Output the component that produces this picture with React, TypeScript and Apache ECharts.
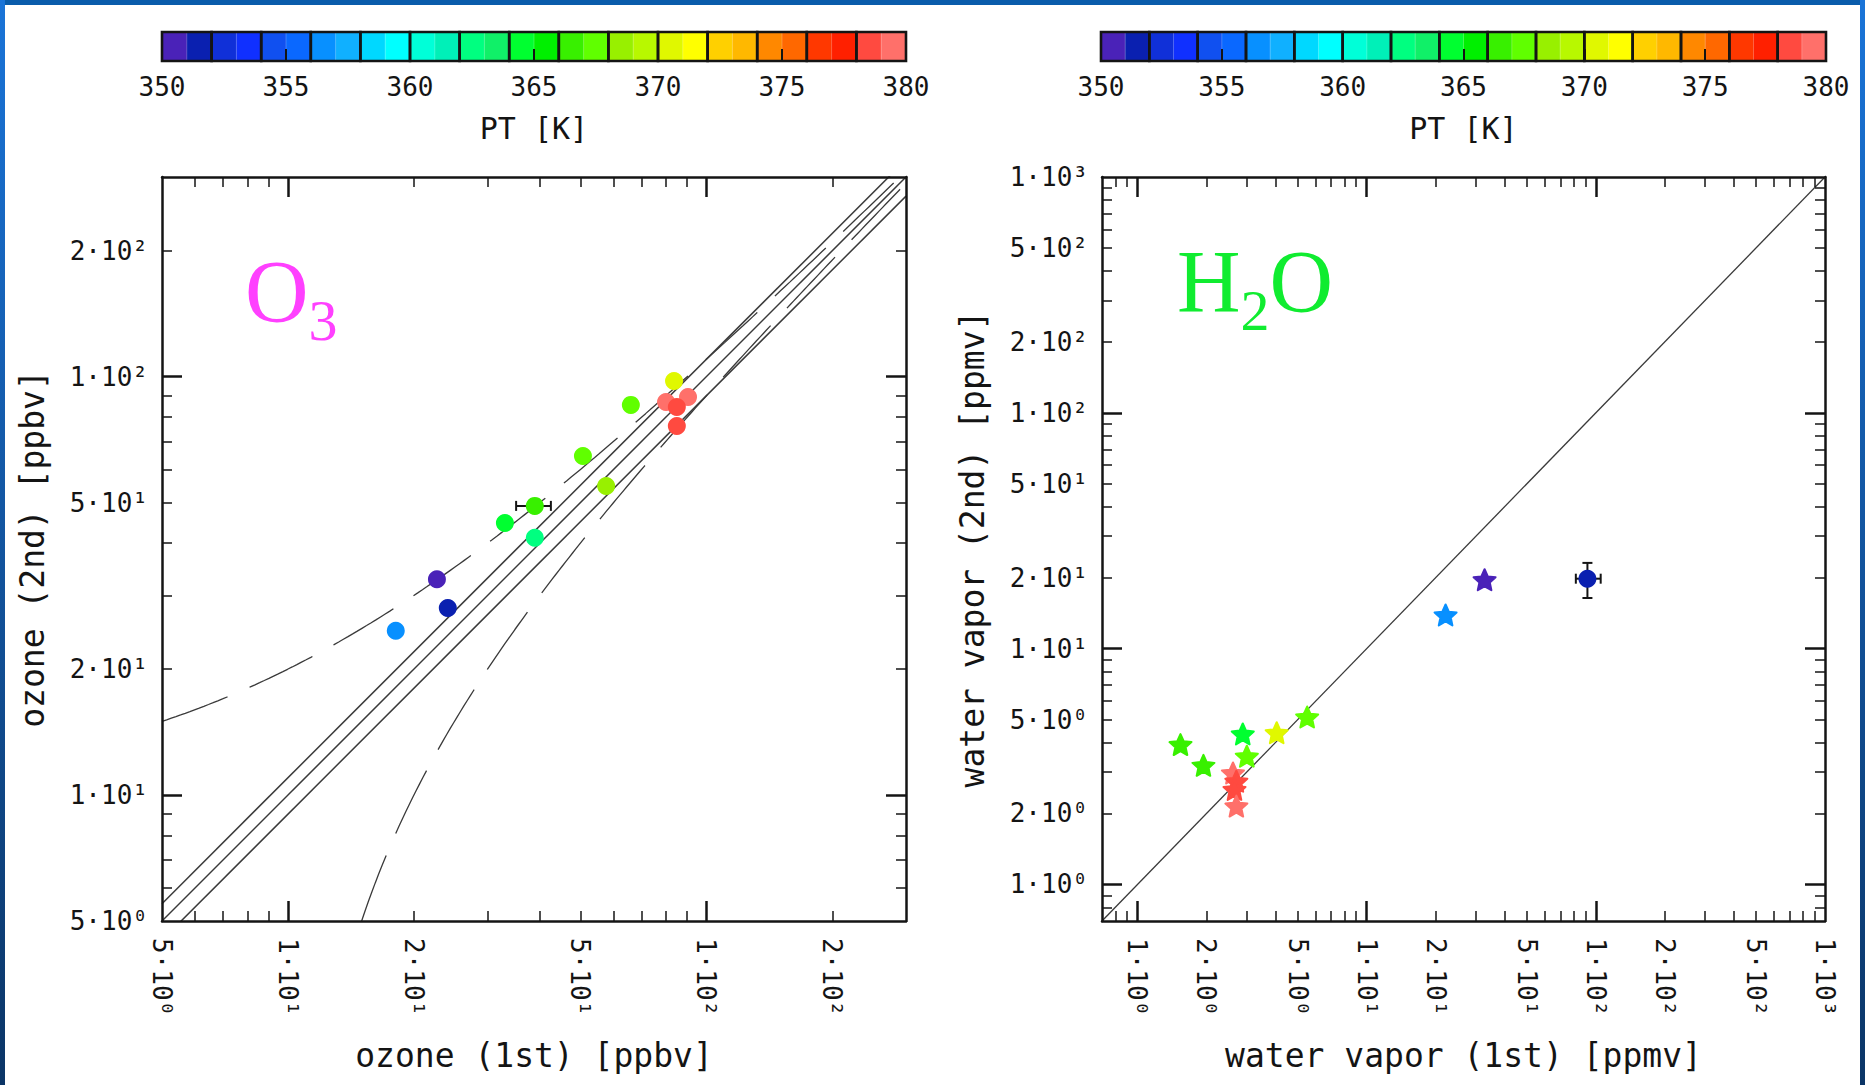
import React, { useEffect, useRef } from 'react';
import * as echarts from 'echarts';

const FONT = '"DejaVu Sans Mono", monospace';
const SERIF = '"Liberation Serif", "DejaVu Serif", serif';
const INK = '#141414';
const GUIDE = '#3a3a3a';

// ---- colour scale: potential temperature [K] ----
const PT_MIN = 350;
const PT_MAX = 380;
const PT_TICKS = [350, 355, 360, 365, 370, 375, 380];
const PT_COLORS = [
  '#4a22b8', '#0a20b0', '#1030d8', '#1030ff', '#1050f0', '#0a68ff', '#0890ff', '#10b0ff',
  '#00d8ff', '#00ffff', '#00ffd8', '#00f0b8', '#00ff80', '#10f068', '#00ff30', '#00f000',
  '#38f000', '#60ff00', '#98f000', '#b8f800', '#e0f800', '#ffff00', '#ffd000', '#ffb800',
  '#ff8800', '#ff6800', '#ff3800', '#ff2000', '#ff4a40', '#ff706a',
];

// ---- ozone panel ----
const O3_RANGE = [5, 300];
const O3_LABELS = [5, 10, 20, 50, 100, 200];
const O3_FIRST = [83.7, 66.0, 80.1, 90.4, 85.0, 85.0, 50.7, 57.6, 38.9, 33.0, 38.9, 22.7, 24.1, 18.1];
const O3_SECOND = [97.6, 85.6, 87.0, 89.4, 84.6, 76.2, 64.6, 54.8, 49.1, 44.7, 41.2, 32.8, 28.0, 24.7];
const O3_PT = [370, 367, 379, 379, 378, 378, 367, 368, 366, 364, 362, 350, 351, 356];
const O3_ERR_X = [38.9];
const O3_ERR_Y = [49.1];
const O3_ERR_XLO = [35.1];
const O3_ERR_XHI = [42.5];
const O3_RATIO_LINES = [1.1, 1.0, 0.9];
const O3_OFFSET_LINES = [10, -10];

// ---- water vapour panel ----
const H2O_RANGE = [0.7, 1000];
const H2O_LABELS = [1, 2, 5, 10, 20, 50, 100, 200, 500, 1000];
const H2O_FIRST = [22.1, 32.7, 1.54, 1.94, 2.88, 3.0, 4.05, 5.5, 2.61, 2.7, 2.65, 2.7];
const H2O_SECOND = [13.9, 19.6, 3.92, 3.2, 4.35, 3.5, 4.4, 5.13, 2.97, 2.74, 2.53, 2.15];
const H2O_PT = [356, 350, 366, 366, 364, 367, 370, 367, 379, 378, 378, 379];
const H2O_CIRCLE_X = [91.9];
const H2O_CIRCLE_Y = [19.8];
const H2O_CIRCLE_PT = [351];
const H2O_ERR_XLO = [81.8];
const H2O_ERR_XHI = [105];
const H2O_ERR_YLO = [16.4];
const H2O_ERR_YHI = [23.1];

const L = (v: number) => Math.log10(v);
const SUP: Record<string, string> = { '-1': '⁻¹', '0': '⁰', '1': '¹', '2': '²', '3': '³' };

function sciLabel(logv: number) {
  const e = Math.floor(logv + 1e-9);
  const m = Math.round(Math.pow(10, logv - e));
  return `${m}·10${SUP[String(e)]}`;
}

function logTicks(min: number, max: number) {
  const major: number[] = [];
  const minor: number[] = [];
  for (let e = -2; e <= 4; e++) {
    for (let m = 1; m <= 9; m++) {
      const v = +(m * Math.pow(10, e)).toPrecision(6);
      if (v > min * 1.0001 && v < max * 0.9999) (m === 1 ? major : minor).push(v);
    }
  }
  return { major, minor };
}

function ptColor(pt: number) {
  const i = Math.max(0, Math.min(PT_COLORS.length - 1, Math.floor(pt - PT_MIN)));
  return PT_COLORS[i];
}

function starPath() {
  const pts: string[] = [];
  for (let k = 0; k < 10; k++) {
    const a = -Math.PI / 2 + (k * Math.PI) / 5;
    const r = k % 2 === 0 ? 10 : 4.7;
    pts.push(`${k === 0 ? 'M' : 'L'}${(r * Math.cos(a)).toFixed(3)},${(r * Math.sin(a)).toFixed(3)}`);
  }
  return 'path://' + pts.join(' ') + ' Z';
}

function panelAxes(g: number, range: number[], labels: number[], xName: string, yName: string) {
  const { major, minor } = logTicks(range[0], range[1]);
  const min = L(range[0]);
  const max = L(range[1]);
  const line = { show: true, onZero: false, lineStyle: { color: INK, width: 2.5 } };
  const noLine = { show: false, onZero: false };
  const tick = (vals: number[], len: number, w: number) => ({
    show: true, inside: true, length: len, customValues: vals.map(L),
    lineStyle: { color: INK, width: w },
  });
  const label = (rot: number, margin: number) => ({
    show: true, customValues: labels.map(L), formatter: sciLabel, rotate: rot, margin,
    fontFamily: FONT, fontSize: 26, color: INK, showMinLabel: true, showMaxLabel: true,
  });
  const nameStyle = { fontFamily: FONT, fontSize: 33, color: INK };
  const base = { type: 'value', gridIndex: g, min, max, splitLine: { show: false }, z: 5 };
  const xs = [
    { ...base, position: 'bottom', axisLine: line, axisTick: tick(major, 20, 2.5), axisLabel: label(-90, 17),
      name: xName, nameLocation: 'middle', nameGap: 118, nameTextStyle: nameStyle },
    { ...base, position: 'bottom', axisLine: noLine, axisTick: tick(minor, 10, 1.5), axisLabel: { show: false } },
    { ...base, position: 'top', axisLine: line, axisTick: tick(major, 20, 2.5), axisLabel: { show: false } },
    { ...base, position: 'top', axisLine: noLine, axisTick: tick(minor, 10, 1.5), axisLabel: { show: false } },
  ];
  const ys = [
    { ...base, position: 'left', axisLine: line, axisTick: tick(major, 20, 2.5), axisLabel: label(0, 14),
      name: yName, nameLocation: 'middle', nameGap: 113, nameTextStyle: nameStyle },
    { ...base, position: 'left', axisLine: noLine, axisTick: tick(minor, 10, 1.5), axisLabel: { show: false } },
    { ...base, position: 'right', axisLine: line, axisTick: tick(major, 20, 2.5), axisLabel: { show: false } },
    { ...base, position: 'right', axisLine: noLine, axisTick: tick(minor, 10, 1.5), axisLabel: { show: false } },
  ];
  return { xs, ys };
}

function colorbarAxes(g: number) {
  return {
    x: {
      type: 'value', gridIndex: g, min: PT_MIN, max: PT_MAX, interval: 5, position: 'bottom', z: 5,
      axisLine: { show: false },
      axisTick: { show: true, inside: true, length: 12, customValues: PT_TICKS, lineStyle: { color: INK, width: 2 } },
      axisLabel: { show: true, customValues: PT_TICKS, margin: 13, fontFamily: FONT, fontSize: 26, color: INK },
      splitLine: { show: false },
      name: 'PT [K]', nameLocation: 'middle', nameGap: 52,
      nameTextStyle: { fontFamily: FONT, fontSize: 30, color: INK },
    },
    y: { type: 'value', gridIndex: g, min: 0, max: 1, show: false },
  };
}

function offsetCurve(off: number, range: number[]) {
  const x0 = Math.max(range[0], range[0] - off);
  const x1 = range[1];
  const n = 160;
  const pts: number[][] = [];
  for (let i = 0; i <= n; i++) {
    const lx = L(x0) + ((L(x1) - L(x0)) * i) / n;
    const x = Math.pow(10, lx);
    pts.push([lx, L(x + off)]);
  }
  return pts;
}

const errorBarRenderer = (params: any, api: any) => {
  const x = api.value(0);
  const y = api.value(1);
  const l = api.coord([api.value(2), y]);
  const r = api.coord([api.value(3), y]);
  const b = api.coord([x, api.value(4)]);
  const t = api.coord([x, api.value(5)]);
  const cap = 5;
  const st = { stroke: INK, lineWidth: 2 };
  const children: any[] = [];
  if (r[0] - l[0] > 0.5) {
    children.push({ type: 'line', shape: { x1: l[0], y1: l[1], x2: r[0], y2: r[1] }, style: st });
    children.push({ type: 'line', shape: { x1: l[0], y1: l[1] - cap, x2: l[0], y2: l[1] + cap }, style: st });
    children.push({ type: 'line', shape: { x1: r[0], y1: r[1] - cap, x2: r[0], y2: r[1] + cap }, style: st });
  }
  if (b[1] - t[1] > 0.5) {
    children.push({ type: 'line', shape: { x1: b[0], y1: b[1], x2: t[0], y2: t[1] }, style: st });
    children.push({ type: 'line', shape: { x1: b[0] - cap, y1: b[1], x2: b[0] + cap, y2: b[1] }, style: st });
    children.push({ type: 'line', shape: { x1: t[0] - cap, y1: t[1], x2: t[0] + cap, y2: t[1] }, style: st });
  }
  return { type: 'group', children };
};

function colorbarSeries(axisIndex: number) {
  const cells = {
    type: 'custom', xAxisIndex: axisIndex, yAxisIndex: axisIndex, silent: true, z: 2,
    data: PT_COLORS.map((_, i) => [PT_MIN + i, PT_MIN + i + 1]),
    renderItem: (params: any, api: any) => {
      const p0 = api.coord([api.value(0), 0]);
      const p1 = api.coord([api.value(1), 1]);
      return {
        type: 'rect',
        shape: { x: p0[0], y: p1[1], width: p1[0] - p0[0] + 0.5, height: p0[1] - p1[1] },
        style: { fill: PT_COLORS[params.dataIndex], stroke: 'rgba(255,255,255,0.28)', lineWidth: 0.8 },
      };
    },
  };
  const pairs: number[][] = [];
  for (let t = PT_MIN; t < PT_MAX; t += 2) pairs.push([t, t + 2]);
  const frames = {
    type: 'custom', xAxisIndex: axisIndex, yAxisIndex: axisIndex, silent: true, z: 3,
    data: pairs,
    renderItem: (params: any, api: any) => {
      const p0 = api.coord([api.value(0), 0]);
      const p1 = api.coord([api.value(1), 1]);
      return {
        type: 'rect',
        shape: { x: p0[0], y: p1[1], width: p1[0] - p0[0], height: p0[1] - p1[1] },
        style: { fill: 'none', stroke: INK, lineWidth: 2.6 },
      };
    },
  };
  return [cells, frames];
}

function buildOption() {
  const o3Axes = panelAxes(0, O3_RANGE, O3_LABELS, 'ozone (1st) [ppbv]', 'ozone (2nd) [ppbv]');
  const h2oAxes = panelAxes(1, H2O_RANGE, H2O_LABELS, 'water vapor (1st) [ppmv]', 'water vapor (2nd) [ppmv]');
  const cb0 = colorbarAxes(2);
  const cb1 = colorbarAxes(3);

  const star = starPath();
  const colored = (x: number, y: number, pt: number, border: boolean) => ({
    value: [L(x), L(y), pt],
    itemStyle: border
      ? { color: ptColor(pt), borderColor: ptColor(pt), borderWidth: 2, borderJoin: 'round', opacity: 1 }
      : { color: ptColor(pt), opacity: 1 },
  });

  const series: any[] = [];
  // ozone guide lines
  O3_RATIO_LINES.forEach((r) => {
    series.push({
      type: 'line', xAxisIndex: 0, yAxisIndex: 0, silent: true, z: 2, clip: true,
      symbol: 'none', showSymbol: false,
      data: [[L(O3_RANGE[0]), L(O3_RANGE[0] * r)], [L(O3_RANGE[1]), L(O3_RANGE[1] * r)]],
      lineStyle: { color: GUIDE, width: 1.5 },
    });
  });
  O3_OFFSET_LINES.forEach((off) => {
    series.push({
      type: 'line', xAxisIndex: 0, yAxisIndex: 0, silent: true, z: 2, clip: true,
      symbol: 'none', showSymbol: false,
      data: offsetCurve(off, O3_RANGE),
      lineStyle: { color: GUIDE, width: 1.3, type: [70, 24] },
    });
  });
  series.push({
    type: 'custom', xAxisIndex: 0, yAxisIndex: 0, silent: true, z: 3,
    data: O3_ERR_X.map((x, i) => [L(x), L(O3_ERR_Y[i]), L(O3_ERR_XLO[i]), L(O3_ERR_XHI[i]), L(O3_ERR_Y[i]), L(O3_ERR_Y[i])]),
    renderItem: errorBarRenderer,
  });
  series.push({
    type: 'scatter', xAxisIndex: 0, yAxisIndex: 0, z: 4, symbol: 'circle', symbolSize: 18,
    itemStyle: { opacity: 1 },
    data: O3_FIRST.map((x, i) => colored(x, O3_SECOND[i], O3_PT[i], false)),
  });

  // water vapour 1:1 line
  series.push({
    type: 'line', xAxisIndex: 4, yAxisIndex: 4, silent: true, z: 2, clip: true,
    symbol: 'none', showSymbol: false,
    data: [[L(H2O_RANGE[0]), L(H2O_RANGE[0])], [L(H2O_RANGE[1]), L(H2O_RANGE[1])]],
    lineStyle: { color: GUIDE, width: 1.3 },
  });
  series.push({
    type: 'custom', xAxisIndex: 4, yAxisIndex: 4, silent: true, z: 3,
    data: H2O_CIRCLE_X.map((x, i) => [L(x), L(H2O_CIRCLE_Y[i]), L(H2O_ERR_XLO[i]), L(H2O_ERR_XHI[i]), L(H2O_ERR_YLO[i]), L(H2O_ERR_YHI[i])]),
    renderItem: errorBarRenderer,
  });
  series.push({
    type: 'scatter', xAxisIndex: 4, yAxisIndex: 4, z: 4, symbol: 'circle', symbolSize: 18,
    itemStyle: { opacity: 1 },
    data: H2O_CIRCLE_X.map((x, i) => colored(x, H2O_CIRCLE_Y[i], H2O_CIRCLE_PT[i], false)),
  });
  series.push({
    type: 'scatter', xAxisIndex: 4, yAxisIndex: 4, z: 4, symbol: star, symbolSize: [22, 21],
    itemStyle: { opacity: 1 },
    data: H2O_FIRST.map((x, i) => colored(x, H2O_SECOND[i], H2O_PT[i], true)),
  });

  series.push(...colorbarSeries(8), ...colorbarSeries(9));

  const sideGradient = new echarts.graphic.LinearGradient(0, 0, 0, 1, [
    { offset: 0, color: '#1a74d8' },
    { offset: 1, color: '#0b3566' },
  ]);

  return {
    animation: false,
    backgroundColor: '#ffffff',
    grid: [
      { left: 162, top: 177, width: 744, height: 744 },
      { left: 1102, top: 177, width: 723, height: 744 },
      { left: 162, top: 32, width: 744, height: 29 },
      { left: 1101, top: 32, width: 725, height: 29 },
    ],
    xAxis: [...o3Axes.xs, ...h2oAxes.xs, cb0.x, cb1.x],
    yAxis: [...o3Axes.ys, ...h2oAxes.ys, cb0.y, cb1.y],
    series,
    graphic: [
      { type: 'rect', silent: true, shape: { x: 0, y: 0, width: 1865, height: 5 }, style: { fill: '#0a5cab' } },
      { type: 'rect', silent: true, shape: { x: 0, y: 0, width: 5, height: 1085 }, style: { fill: sideGradient } },
      { type: 'rect', silent: true, shape: { x: 1860, y: 0, width: 5, height: 1085 }, style: { fill: sideGradient } },
      {
        type: 'text', x: 245, y: 247, silent: true,
        style: {
          text: '{m|O}{s|3}', fill: '#ff40ff', fontFamily: SERIF, fontSize: 88, align: 'left', verticalAlign: 'top',
          rich: {
            m: { fontFamily: SERIF, fontSize: 88, height: 88, lineHeight: 102, verticalAlign: 'top', fill: '#ff40ff' },
            s: { fontFamily: SERIF, fontSize: 58, height: 58, lineHeight: 102, verticalAlign: 'bottom', fill: '#ff40ff' },
          },
        },
      },
      {
        type: 'text', x: 1177, y: 237, silent: true,
        style: {
          text: '{m|H}{s|2}{m|O}', fill: '#10ec30', fontFamily: SERIF, fontSize: 88, align: 'left', verticalAlign: 'top',
          rich: {
            m: { fontFamily: SERIF, fontSize: 88, height: 88, lineHeight: 102, verticalAlign: 'top', fill: '#10ec30' },
            s: { fontFamily: SERIF, fontSize: 58, height: 58, lineHeight: 102, verticalAlign: 'bottom', fill: '#10ec30' },
          },
        },
      },
    ],
  };
}

export default function App() {
  const ref = useRef<HTMLDivElement>(null);
  useEffect(() => {
    if (!ref.current) return;
    const chart = echarts.init(ref.current, null, { renderer: 'svg' });
    chart.setOption(buildOption() as any);
    return () => chart.dispose();
  }, []);
  return (
    <div
      ref={ref}
      style={{ position: 'fixed', left: 0, top: 0, width: 1865, height: 1085, background: '#fff' }}
    />
  );
}
